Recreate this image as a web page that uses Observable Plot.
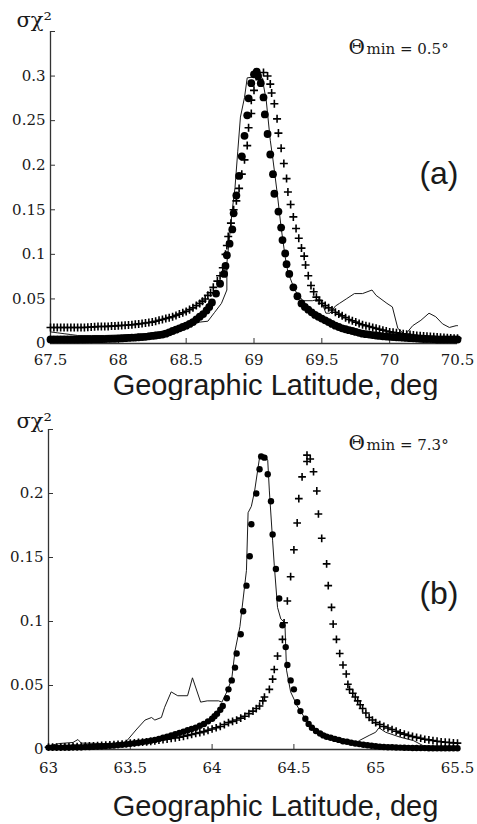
<!DOCTYPE html>
<html>
<head>
<meta charset="utf-8">
<script src="https://cdn.jsdelivr.net/npm/d3@7"></script>
<script src="https://cdn.jsdelivr.net/npm/@observablehq/plot@0.6"></script>
<style>
  html, body { margin: 0; padding: 0; background: white; }
  #chart { width: 477px; }
  #chart svg { display: block; }
</style>
</head>
<body>
<div id="chart"></div>
<script>
// ---------- Panel (a): Θmin = 0.5° ----------
const aTickX = [67.5, 68, 68.5, 69, 69.5, 70, 70.5];
const aTickY = [0, 0.05, 0.1, 0.15, 0.2, 0.25, 0.3, 0.35];
const aLabelY = ["0", "0.05", "0.1", "0.15", "0.2", "0.25", "0.3", ""];
const aTitle = ["Θ", "min = 0.5°"];
const aTag = "(a)";

// filled dots
const aDots = [
 [67.500,.0045],[67.525,.0045],[67.550,.0045],[67.575,.0045],[67.600,.0045],[67.625,.0045],
 [67.650,.0045],[67.675,.0045],[67.700,.0045],[67.725,.0046],[67.750,.0046],[67.775,.0047],
 [67.800,.0047],[67.825,.0048],[67.850,.0048],[67.875,.0049],[67.900,.005],[67.925,.0051],
 [67.950,.0052],[67.975,.0053],[68.000,.0055],[68.025,.0057],[68.050,.006],[68.075,.0062],
 [68.100,.0065],[68.125,.0067],[68.150,.007],[68.175,.0072],[68.200,.0075],[68.225,.008],
 [68.250,.0085],[68.275,.009],[68.300,.0095],[68.325,.010],[68.350,.011],[68.375,.0125],
 [68.400,.014],[68.425,.0155],[68.450,.017],[68.475,.0185],[68.500,.02],[68.525,.022],
 [68.550,.024],[68.575,.027],[68.600,.03],[68.625,.033],[68.650,.037],[68.670,.041],
 [68.69,.046],[68.72,.056],[68.75,.067],[68.78,.078],
 [68.79,.087],[68.80,.099],[68.82,.112],[68.84,.128],[68.85,.146],[68.87,.166],[68.89,.188],
 [68.91,.21],[68.93,.233],[68.95,.256],[68.96,.275],[68.98,.292],[69.00,.302],[69.02,.305],
 [69.03,.30],[69.05,.292],[69.07,.276],[69.08,.257],[69.10,.235],[69.12,.212],[69.14,.19],
 [69.15,.168],[69.18,.148],[69.20,.13],[69.21,.116],[69.23,.101],[69.24,.089],[69.26,.078],
 [69.29,.063],[69.32,.053],[69.35,.045],[69.375,.041],[69.40,.038],[69.425,.035],[69.45,.032],
 [69.475,.030],[69.50,.028],[69.525,.026],[69.55,.024],[69.575,.022],[69.60,.020],[69.625,.0185],
 [69.65,.017],[69.675,.016],[69.70,.015],[69.725,.014],[69.75,.013],[69.775,.012],[69.80,.011],
 [69.825,.0105],[69.85,.010],[69.875,.0095],[69.90,.009],[69.925,.0085],[69.95,.008],[69.975,.0078],
 [70.00,.0075],[70.025,.0072],[70.05,.007],[70.075,.0068],[70.10,.0065],[70.125,.0062],[70.15,.006],
 [70.175,.0058],[70.20,.0055],[70.225,.0052],[70.25,.005],[70.275,.005],[70.30,.005],[70.325,.0048],
 [70.35,.0045],[70.375,.0045],[70.40,.0045],[70.425,.0045],[70.45,.0045],[70.475,.0045],[70.50,.0045]
];
// plus markers
const aPlus = [
 [67.500,.018],[67.525,.018],[67.550,.018],[67.575,.018],[67.600,.018],[67.625,.018],[67.650,.018],
 [67.675,.018],[67.700,.018],[67.725,.018],[67.750,.018],[67.775,.0182],[67.800,.0185],[67.825,.0187],
 [67.850,.019],[67.875,.019],[67.900,.019],[67.925,.0192],[67.950,.0195],[67.975,.0197],[68.000,.02],
 [68.025,.0202],[68.050,.0205],[68.075,.0207],[68.100,.021],[68.125,.0215],[68.150,.022],[68.175,.0225],
 [68.200,.023],[68.225,.0235],[68.250,.024],[68.275,.025],[68.300,.026],[68.325,.027],[68.350,.028],
 [68.375,.029],[68.400,.03],[68.425,.0315],[68.450,.033],[68.475,.0345],[68.500,.036],[68.525,.038],
 [68.550,.04],[68.575,.0425],[68.600,.045],[68.620,.0475],[68.64,.05],[68.66,.054],[68.68,.057],
 [68.70,.063],[68.73,.07],[68.75,.076],
 [68.77,.085],[68.79,.1],[68.80,.11],[68.81,.12],[68.83,.135],[68.85,.15],[68.87,.16],
 [68.89,.174],[68.91,.19],[68.93,.206],[68.95,.222],[68.96,.242],[68.98,.258],[68.98,.273],
 [69.00,.284],[69.04,.296],[69.07,.304],[69.10,.30],[69.12,.291],[69.13,.281],[69.15,.269],
 [69.17,.252],[69.18,.236],[69.20,.219],[69.22,.202],[69.24,.185],[69.25,.17],[69.27,.156],
 [69.29,.142],[69.31,.129],[69.33,.118],[69.35,.107],[69.37,.098],[69.38,.088],[69.40,.076],
 [69.42,.065],[69.44,.058],[69.46,.052],[69.48,.048],[69.50,.045],[69.525,.0425],[69.55,.04],
 [69.575,.0375],[69.60,.035],[69.625,.033],[69.65,.031],[69.675,.029],[69.70,.027],[69.725,.0255],
 [69.75,.024],[69.775,.0225],[69.80,.021],[69.825,.02],[69.85,.019],[69.875,.018],[69.90,.017],
 [69.925,.016],[69.95,.015],[69.975,.014],[70.00,.013],[70.025,.0125],[70.05,.012],[70.075,.0115],
 [70.10,.011],[70.125,.0105],[70.15,.010],[70.175,.0095],[70.20,.009],[70.225,.0088],[70.25,.0085],
 [70.275,.0082],[70.30,.0078],[70.325,.0075],[70.35,.0072],[70.375,.007],[70.40,.0067],[70.425,.0065],
 [70.45,.0062],[70.475,.006],[70.50,.006]
];
// solid line
const aLine = [
 [67.50,.013],[67.55,.012],[67.60,.011],[67.65,.010],[67.70,.009],[67.80,.009],[67.90,.009],
 [68.00,.0095],[68.10,.010],[68.20,.011],[68.30,.013],[68.40,.016],[68.50,.02],[68.60,.024],
 [68.66,.025],[68.71,.035],[68.76,.045],[68.80,.06],[68.80,.09],[68.82,.12],[68.84,.15],
 [68.86,.175],[68.88,.215],[68.90,.254],[68.93,.276],[68.95,.298],[69.00,.299],[69.06,.298],
 [69.09,.273],[69.12,.228],[69.14,.206],[69.17,.17],[69.20,.13],[69.23,.097],[69.25,.08],
 [69.30,.06],[69.36,.048],[69.43,.048],[69.49,.05],[69.53,.034],[69.56,.034],[69.60,.042],
 [69.63,.045],[69.68,.05],[69.74,.056],[69.80,.056],[69.87,.06],[69.90,.054],[69.98,.045],
 [70.02,.041],[70.06,.017],[70.09,.013],[70.11,.009],[70.17,.02],[70.23,.026],[70.29,.034],
 [70.34,.03],[70.39,.022],[70.44,.018],[70.49,.02],[70.50,.02]
];

// ---------- Panel (b): Θmin = 7.3° ----------
const bTickX = [63, 63.5, 64, 64.5, 65, 65.5];
const bTickY = [0, 0.05, 0.1, 0.15, 0.2, 0.25];
const bLabelY = ["0", "0.05", "0.1", "0.15", "0.2", ""];
const bTitle = ["Θ", "min = 7.3°"];
const bTag = "(b)";

const bDots = [
 [63.000,.0015],[63.025,.0015],[63.050,.0015],[63.075,.0015],[63.100,.0016],[63.125,.0016],
 [63.150,.0017],[63.175,.0017],[63.200,.0018],[63.225,.0019],[63.250,.002],[63.275,.0021],
 [63.300,.0023],[63.325,.0025],[63.350,.0027],[63.375,.003],[63.400,.0032],[63.425,.0035],
 [63.450,.0038],[63.475,.0041],[63.500,.0045],[63.525,.0049],[63.550,.0053],[63.575,.0058],
 [63.600,.0063],[63.625,.0069],[63.650,.0075],[63.675,.0083],[63.700,.0092],[63.725,.010],
 [63.750,.011],[63.775,.012],[63.800,.013],[63.825,.014],[63.850,.015],[63.875,.016],
 [63.900,.017],[63.925,.0185],[63.950,.02],[63.975,.022],[64.000,.024],[64.015,.026],
 [64.03,.028],[64.05,.031],[64.065,.034],[64.09,.04],[64.10,.047],[64.12,.054],[64.14,.064],
 [64.15,.075],[64.175,.09],[64.19,.108],[64.21,.128],[64.23,.151],[64.24,.176],[64.27,.2],
 [64.29,.219],[64.30,.229],[64.32,.228],[64.34,.215],[64.36,.194],[64.37,.168],[64.39,.141],
 [64.41,.118],[64.43,.097],[64.45,.08],[64.46,.066],[64.48,.054],[64.50,.047],[64.52,.037],
 [64.54,.03],[64.57,.024],[64.59,.020],[64.61,.017],[64.635,.0145],[64.66,.0125],[64.68,.011],
 [64.70,.010],[64.725,.0092],[64.75,.0083],[64.775,.0075],[64.80,.0065],[64.825,.006],
 [64.85,.0053],[64.875,.0047],[64.90,.0042],[64.925,.0037],[64.95,.0033],[64.975,.0029],
 [65.00,.0025],[65.025,.0022],[65.05,.002],[65.075,.0018],[65.10,.0017],[65.125,.0016],
 [65.15,.0015],[65.175,.0014],[65.20,.0013],[65.225,.0012],[65.25,.0012],[65.275,.0011],
 [65.30,.0011],[65.325,.001],[65.35,.001],[65.375,.001],[65.40,.001],[65.425,.001],
 [65.45,.001],[65.475,.001],[65.50,.001]
];
const bPlus = [
 [63.000,.0018],[63.025,.0018],[63.050,.0019],[63.075,.0019],[63.100,.002],[63.125,.0021],
 [63.150,.0022],[63.175,.0023],[63.200,.0025],[63.225,.0026],[63.250,.0028],[63.275,.0029],
 [63.300,.003],[63.325,.0032],[63.350,.0034],[63.375,.0036],[63.400,.0038],[63.425,.004],
 [63.450,.0043],[63.475,.0046],[63.500,.005],[63.525,.0052],[63.550,.0055],[63.575,.0057],
 [63.600,.006],[63.625,.0064],[63.650,.0068],[63.675,.0072],[63.700,.0077],[63.725,.0081],
 [63.750,.0086],[63.775,.0091],[63.800,.0096],[63.825,.0103],[63.850,.011],[63.875,.0117],
 [63.900,.0125],[63.925,.0132],[63.950,.014],[63.975,.015],[64.000,.016],[64.025,.017],
 [64.050,.018],[64.075,.0195],[64.100,.021],[64.125,.022],[64.150,.023],[64.175,.0245],
 [64.200,.026],[64.225,.028],[64.250,.03],[64.27,.032],[64.29,.034],[64.31,.038],[64.32,.041],
 [64.35,.047],[64.37,.055],[64.38,.0625],[64.40,.073],[64.43,.086],[64.44,.099],[64.46,.116],
 [64.48,.135],[64.50,.156],[64.52,.177],[64.53,.196],[64.55,.213],[64.58,.225],[64.58,.23],
 [64.60,.227],[64.62,.217],[64.64,.202],[64.65,.184],[64.67,.165],[64.70,.145],[64.71,.128],
 [64.73,.111],[64.74,.098],[64.76,.086],[64.78,.075],[64.80,.066],[64.82,.059],[64.83,.051],
 [64.84,.047],[64.86,.044],[64.875,.041],[64.89,.038],[64.905,.035],[64.92,.032],[64.94,.0285],
 [64.96,.025],[64.98,.023],[65.00,.021],[65.025,.0195],[65.05,.018],[65.075,.0168],[65.10,.0156],
 [65.125,.0143],[65.15,.013],[65.175,.012],[65.20,.011],[65.225,.0102],[65.25,.0095],
 [65.275,.0088],[65.30,.008],[65.325,.0075],[65.35,.007],[65.375,.0065],[65.40,.006],
 [65.425,.0057],[65.45,.0055],[65.475,.0052],[65.50,.005]
];
const bLine = [
 [63.00,.003],[63.07,.0047],[63.15,.0055],[63.18,.0078],[63.20,.005],[63.32,.0047],[63.47,.003],
 [63.48,.007],[63.54,.016],[63.59,.023],[63.63,.025],[63.65,.023],[63.69,.025],[63.71,.033],
 [63.75,.045],[63.79,.042],[63.85,.042],[63.88,.056],[63.93,.037],[63.97,.038],[64.04,.038],
 [64.06,.037],[64.09,.045],[64.12,.055],[64.14,.077],[64.17,.096],[64.21,.14],[64.22,.185],
 [64.24,.19],[64.26,.202],[64.29,.228],[64.32,.23],[64.34,.226],[64.35,.202],[64.37,.163],
 [64.38,.144],[64.40,.111],[64.42,.102],[64.445,.099],[64.455,.062],[64.48,.045],[64.52,.034],
 [64.57,.024],[64.61,.017],[64.66,.012],[64.74,.008],[64.88,.005],[64.90,.007],[64.96,.011],
 [65.00,.0135],[65.02,.017],[65.06,.0135],[65.15,.0096],[65.23,.007],[65.29,.003],[65.40,.002],
 [65.50,.002]
];

const yLabel = "σχ²";
const xLabel = "Geographic Latitude, deg";

const SERIF = "DejaVu Serif";
const SANS = "Liberation Sans";
const INK = "#1a1a1a";

function panel(o) {
  const x0 = o.tickX[0], x1 = o.tickX[o.tickX.length - 1];
  const y1 = o.tickY[o.tickY.length - 1];
  const fmtY = d => o.labelY[o.tickY.indexOf(d)];
  return Plot.plot({
    width: 477,
    height: o.height,
    marginLeft: o.ml,
    marginRight: 20,
    marginTop: o.mt,
    marginBottom: o.mb,
    x: {domain: [x0, x1]},
    y: {domain: [0, y1]},
    style: {fontSize: "15px", fontFamily: SERIF, color: INK, background: "white"},
    marks: [
      Plot.ruleY([0], {stroke: "#333", strokeWidth: 1.3}),
      Plot.ruleX([x0], {stroke: "#333", strokeWidth: 1.3}),
      Plot.axisX(o.tickX, {tickSize: -5, tickPadding: o.xPad, tickFormat: d => String(d), label: null, stroke: "#333", fontSize: 15, fontFamily: SERIF}),
      Plot.axisY(o.tickY, {tickSize: -5, tickPadding: 10, tickFormat: fmtY, label: null, stroke: "#333", fontSize: 15, fontFamily: SERIF}),
      Plot.line(o.line, {x: d => d[0], y: d => d[1], stroke: INK, strokeWidth: 1}),
      Plot.dot(o.dots, {x: d => d[0], y: d => d[1], r: o.rDot, fill: "#000"}),
      Plot.dot(o.plus, {x: d => d[0], y: d => d[1], symbol: "plus", r: o.rPlus, stroke: "#000", strokeWidth: 1.6, fill: "none"}),
      Plot.text([yLabel], {frameAnchor: "top-left", textAnchor: "start", lineAnchor: "bottom", dx: 16 - o.ml, dy: o.yLabDy, fontSize: 21, fontFamily: SERIF, fill: INK}),
      Plot.text([o.title[0]], {frameAnchor: "top-left", textAnchor: "start", lineAnchor: "bottom", dx: 348 - o.ml, dy: o.titleDy, fontSize: 20, fontFamily: SERIF, fill: INK}),
      Plot.text([o.title[1]], {frameAnchor: "top-left", textAnchor: "start", lineAnchor: "bottom", dx: 366 - o.ml, dy: o.titleDy, fontSize: 15, fontFamily: SERIF, fill: INK}),
      Plot.text([o.tag], {frameAnchor: "top-right", textAnchor: "end", lineAnchor: "middle", dx: 1, dy: o.tagDy, fontSize: 32, fontFamily: SANS, fill: INK}),
      Plot.text([xLabel], {frameAnchor: "bottom", textAnchor: "middle", lineAnchor: "bottom", dx: o.xLabDx, dy: o.xLabDy, fontSize: 29, fontFamily: SANS, fill: INK})
    ]
  });
}

const chart = document.getElementById("chart");
chart.appendChild(panel({
  height: 400, ml: 50, mt: 31, mb: 57,
  tickX: aTickX, tickY: aTickY, labelY: aLabelY,
  dots: aDots, plus: aPlus, line: aLine,
  rDot: 3.9, rPlus: 2.7, xPad: 16,
  title: aTitle, tag: aTag,
  yLabDy: -5, titleDy: 22, tagDy: 142, xLabDx: 21.5, xLabDy: 51
}));
chart.appendChild(panel({
  height: 424, ml: 48, mt: 29, mb: 75,
  tickX: bTickX, tickY: bTickY, labelY: bLabelY,
  dots: bDots, plus: bPlus, line: bLine,
  rDot: 3.2, rPlus: 2.6, xPad: 18,
  title: bTitle, tag: bTag,
  yLabDy: -2, titleDy: 20, tagDy: 164, xLabDx: 22.5, xLabDy: 66
}));
</script>
</body>
</html>
